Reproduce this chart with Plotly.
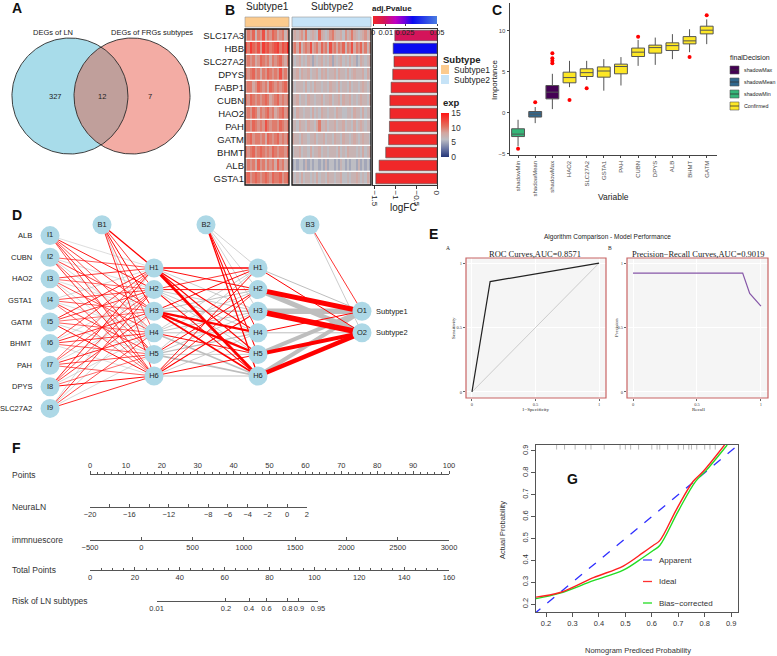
import numpy as np
import plotly.graph_objects as go

W, H = 777, 656
SANS = "Liberation Sans, Arial, sans-serif"
SERIF = "Liberation Serif, Times New Roman, serif"

# ---------------- data ----------------
# A: Venn
venn_labels = ["DEGs of LN", "DEGs of FRGs subtypes"]
venn_counts = [327, 12, 7]  # LN only, both, FRG subtypes only

# B: heatmap + logFC bars
genes = ["SLC17A3", "HBB", "SLC27A2", "DPYS", "FABP1", "CUBN",
         "HAO2", "PAH", "GATM", "BHMT", "ALB", "GSTA1"]
logfc = [-1.02, -1.06, -1.04, -1.07, -1.11, -1.14, -1.14, -1.15, -1.17, -1.24, -1.40, -1.48]
adj_pvalue = [0.009, 0.031, 0.0004, 0.0003, 0.0005, 0.0002,
              0.0003, 0.0002, 0.0001, 0.0002, 0.0001, 0.0001]
# expression per sample, one hex digit (0-15) per column
exp_subtype1 = [
    "8a9b7a" "9c8a9b" "a89a79",
    "cadbac" "9dbcab" "cdacbe",
    "9a9a89" "ba9a8a" "9ab98a",
    "a9ab9a" "8a9ba9" "a9c9a8",
    "9aa89b" "a9a8ba" "9a9ab9",
    "a9ba9a" "9aba89" "ab9a9a",
    "9a9ba8" "a9ab9a" "89ab9a",
    "aa9ba9" "a9ca9a" "a9ba9a",
    "9ab9aa" "9a8ba9" "ab9a9b",
    "a9ab9a" "ba9a9b" "a9aa9b",
    "8a9a8b" "9a8a9a" "8b9a89",
    "ab9aba" "9aba9b" "aab9ab",
]
exp_subtype2 = [
    "787897" "a67876" "b87679" "a87786" "978a87" "678978",
    "9a8b79" "a9c89a" "8b9a7c" "9a8a9b" "7a9c8a" "9b8a79",
    "767867" "687576" "786768" "576786" "768675" "687678",
    "778687" "786778" "687867" "786877" "686787" "778687",
    "767776" "867687" "767768" "776867" "768677" "678767",
    "778677" "687767" "786778" "677868" "778676" "787768",
    "768776" "776867" "687767" "768776" "677687" "768677",
    "776877" "687768" "a77867" "786778" "677686" "787677",
    "877687" "767786" "778677" "687768" "776787" "678776",
    "677867" "768677" "867767" "776867" "687776" "768678",
    "565665" "756566" "565756" "656576" "565665" "756565",
    "767686" "776768" "677687" "767786" "676778" "767687",
]

# C: Boruta importance
features = ["shadowMin", "shadowMean", "shadowMax", "HAO2", "SLC27A2", "GSTA1",
            "PAH", "CUBN", "DPYS", "ALB", "BHMT", "GATM"]
decisions = ["shadowMin", "shadowMean", "shadowMax"] + ["Confirmed"] * 9
box_q1 = [-2.9, -0.52, 1.7, 3.66, 4.43, 4.35, 4.76, 6.87, 7.28, 7.6, 8.41, 9.63]
box_median = [-2.6, -0.16, 2.52, 4.3, 4.9, 5.1, 5.65, 7.4, 7.96, 8.2, 8.78, 10.08]
box_q3 = [-1.95, 0.16, 3.33, 4.96, 5.37, 5.6, 5.94, 7.9, 8.26, 8.54, 9.3, 10.57]
box_low = [-4.1, -1.26, 0.45, 3.13, 4.02, 2.7, 3.33, 5.73, 5.85, 6.55, 7.4, 8.38]
box_high = [-0.85, 0.7, 4.76, 6.34, 6.34, 6.55, 6.8, 8.9, 9.18, 9.6, 10.2, 11.4]
outlier_feature = ["shadowMin", "shadowMean", "shadowMax", "shadowMax", "shadowMax", "shadowMax",
                   "HAO2", "SLC27A2", "CUBN", "BHMT", "GATM"]
outlier_value = [-4.4, 1.3, 7.28, 6.67, 6.34, 6.06, 1.55, 3.0, 9.27, 6.8, 11.9]
decision_order = ["shadowMax", "shadowMean", "shadowMin", "Confirmed"]
decision_colors = ["#440154", "#31688E", "#35B779", "#FDE725"]

# D: neural network weights
nn_inputs = ["ALB", "CUBN", "HAO2", "GSTA1", "GATM", "BHMT", "PAH", "DPYS", "SLC27A2"]
nn_outputs = ["Subtype1", "Subtype2"]
w_in_h1 = [
    [-0.8, 1.4, 1.2, 1.0, 1.3, 1.1],
    [1.0, -0.8, 1.2, -0.9, 1.0, 1.3],
    [1.2, 0.9, -0.8, 1.1, -0.9, 1.0],
    [-0.9, 1.1, 1.0, -0.8, 1.2, 0.9],
    [1.3, 1.2, 0.9, 1.0, -1.0, 1.4],
    [1.1, -0.9, 1.3, 1.2, 1.0, -0.8],
    [0.9, 1.0, -0.9, 1.3, 1.1, 1.0],
    [1.4, 1.0, 1.2, -1.0, 0.9, 1.5],
    [-0.9, 1.2, -1.0, 1.1, -0.9, 1.3],
]
w_b1_h1 = [2.0, 1.2, 1.5, 1.0, -0.9, 1.3]
w_h1_h2 = [
    [1.8, 1.2, -1.0, 1.3, 1.5, 3.5],
    [1.0, 1.2, -1.0, -1.0, -1.0, 1.3],
    [1.2, -1.2, -2.0, 3.0, 3.0, 2.0],
    [-1.0, -1.0, -1.2, -1.2, 1.2, -2.0],
    [-1.0, 1.2, -1.0, -1.5, -1.0, -2.0],
    [1.2, 1.0, 1.3, -1.0, 1.2, -1.2],
]
w_b2_h2 = [-1.0, -1.0, -1.0, 1.3, 1.5, 1.8]
w_h2_out = [[-1.0, 1.0], [5.0, -5.0], [-5.5, 5.5], [1.0, -1.0], [-4.0, 4.0], [-4.0, 4.5]]
w_b3_out = [1.0, -1.0]

# E: ROC / PR
roc_fpr = [0, 0.1429, 1]
roc_tpr = [0, 0.8571, 1]
pr_recall = [0, 0.857, 0.912, 1.0]
pr_precision = [0.923, 0.923, 0.765, 0.667]

# F: nomogram
points_ticks = list(range(0, 101, 10))
neura_ticks = list(range(-20, 3, 2))
neura_labels = ["−20", "", "−16", "", "−12", "", "−8", "−6", "−4", "−2", "0", "2"]
neura_points_range = [0, 60.4]
immune_ticks = list(range(-500, 3001, 500))
total_ticks = list(range(0, 161, 20))
risk_labels = ["0.01", "0.2", "0.4", "0.6", "0.8", "0.9", "0.95"]
risk_total_points = [29.7, 60.6, 70.9, 78.7, 87.9, 93.1, 101.6]

# G: calibration
cal_pred_red = [0.162, 0.253, 0.379, 0.492, 0.567, 0.605, 0.63, 0.693, 0.756, 0.794, 0.875]
cal_red = [0.232, 0.253, 0.321, 0.374, 0.435, 0.468, 0.49, 0.632, 0.760, 0.806, 0.927]
cal_pred_green = [0.162, 0.253, 0.379, 0.492, 0.567, 0.605, 0.63, 0.70, 0.765, 0.805, 0.885]
cal_green = [0.225, 0.250, 0.307, 0.355, 0.413, 0.445, 0.468, 0.625, 0.760, 0.810, 0.927]
rug_pred = [0.24, 0.27, 0.31, 0.35, 0.37, 0.42, 0.48, 0.5, 0.52, 0.55, 0.6, 0.62,
            0.63, 0.66, 0.7, 0.72, 0.74, 0.75, 0.77, 0.8, 0.82, 0.84]


# ---------------- helpers ----------------
def dx(x0, x1):
    return [x0 / W, x1 / W]


def dy(y0, y1):
    return [1 - y1 / H, 1 - y0 / H]


annotations = []
shapes = []
axes = {}


def note(text, x, y, size=8, color="#222", xanchor="center", yanchor="middle",
         bold=False, family=SANS, angle=0):
    if bold:
        text = f"<b>{text}</b>"
    annotations.append(dict(text=text, x=x / W, y=1 - y / H, xref="paper", yref="paper",
                            showarrow=False, xanchor=xanchor, yanchor=yanchor, textangle=angle,
                            font=dict(size=size, color=color, family=family)))


def rect(x0, y0, x1, y1, fill, line="rgba(0,0,0,0)", width=0.6):
    shapes.append(dict(type="rect", xref="paper", yref="paper", x0=x0 / W, x1=x1 / W,
                       y0=1 - y1 / H, y1=1 - y0 / H, fillcolor=fill,
                       line=dict(color=line, width=width)))


def seg(x0, y0, x1, y1, color, width=1.0, dash="solid"):
    shapes.append(dict(type="line", xref="paper", yref="paper", x0=x0 / W, x1=x1 / W,
                       y0=1 - y0 / H, y1=1 - y1 / H, line=dict(color=color, width=width, dash=dash)))


def axis(name, domain, rng=None, **kw):
    d = dict(domain=domain, showgrid=False, zeroline=False, showline=False, ticks="",
             showticklabels=False, automargin=False, fixedrange=True)
    if rng is not None:
        d["range"] = rng
    d.update(kw)
    axes[name] = d


fig = go.Figure()

# ---------------- A ----------------
d = 0.535
t = np.linspace(0, 2 * np.pi, 240)
for cx, col in [(-d, "#A8DCEA"), (d, "#F3ACA4")]:
    fig.add_trace(go.Scatter(x=cx + np.cos(t), y=np.sin(t), fill="toself", fillcolor=col,
                             mode="lines", line=dict(width=0), xaxis="x", yaxis="y", hoverinfo="skip"))
a = np.arccos(d)
ta = np.linspace(-a, a, 80)
tb = np.linspace(np.pi - a, np.pi + a, 80)
fig.add_trace(go.Scatter(x=np.concatenate([-d + np.cos(ta), d + np.cos(tb)]),
                         y=np.concatenate([np.sin(ta), np.sin(tb)]), fill="toself",
                         fillcolor="#C09F9B", mode="lines", line=dict(width=0),
                         xaxis="x", yaxis="y", hoverinfo="skip"))
for cx in (-d, d):
    fig.add_trace(go.Scatter(x=cx + np.cos(t), y=np.sin(t), mode="lines",
                             line=dict(color="#2a2a2a", width=0.9), xaxis="x", yaxis="y", hoverinfo="skip"))
axis("xaxis", dx(0, 215), [-1.741, 1.966], anchor="y")
axis("yaxis", dy(20, 180), [-1.448, 1.310], anchor="x")
for txt, xv in zip(venn_labels, [-0.83, 0.88]):
    annotations.append(dict(text=txt, x=xv, y=1.086, xref="x", yref="y", showarrow=False,
                            font=dict(size=7.5, color="#222")))
for cnt, xv in zip(venn_counts, [-0.79, 0.02, 0.845]):
    annotations.append(dict(text=str(cnt), x=xv, y=0.0, xref="x", yref="y", showarrow=False,
                            font=dict(size=7.5, color="#222")))

# ---------------- B ----------------
exp_scale = [[0, "#233578"], [0.2, "#6F7AA5"], [0.4, "#BDBDC3"], [0.55, "#D3A6A0"],
             [0.7, "#E2705F"], [1, "#FF1414"]]
p_scale = [[0, "#F02828"], [0.18, "#D4145A"], [0.35, "#C000C0"], [0.5, "#6A00E0"],
           [0.62, "#0A0AF0"], [1, "#4A7DE0"]]
z1 = [[int(c, 16) for c in row] for row in exp_subtype1]
z2 = [[int(c, 16) for c in row] for row in exp_subtype2]
fig.add_trace(go.Heatmap(z=z1, coloraxis="coloraxis", xaxis="x2", yaxis="y2", ygap=1.3, hoverinfo="skip"))
fig.add_trace(go.Heatmap(z=z2, coloraxis="coloraxis", xaxis="x3", yaxis="y3", ygap=1.3, hoverinfo="skip"))
axis("xaxis2", dx(245, 289), [-0.5, len(z1[0]) - 0.5], anchor="y2")
axis("yaxis2", dy(29, 185), [11.5, -0.5], anchor="x2", showticklabels=True,
     tickvals=list(range(12)), ticktext=genes, tickfont=dict(size=9.5, color="#1a1a1a"))
axis("xaxis3", dx(292, 371), [-0.5, len(z2[0]) - 0.5], anchor="y3")
axis("yaxis3", dy(29, 185), [11.5, -0.5], anchor="x3")
for xa, ya, col, lab in [("x2", "y2", "#FCCB8E", "Subtype1"), ("x3", "y3", "#C6E3F7", "Subtype2")]:
    shapes.append(dict(type="rect", xref=f"{xa} domain", yref=f"{ya} domain", x0=0, x1=1, y0=0, y1=1,
                       line=dict(color="#111", width=1.3), fillcolor="rgba(0,0,0,0)"))
    shapes.append(dict(type="rect", xref=f"{xa} domain", yref="paper", x0=0, x1=1,
                       y0=1 - 27 / H, y1=1 - 17 / H, fillcolor=col, line=dict(color="#999", width=0.6)))
note("Subtype1", 267, 7, size=10)
note("Subtype2", 332, 7, size=10)

fig.add_trace(go.Bar(x=logfc, y=list(range(12)), orientation="h", width=0.82,
                     marker=dict(color=adj_pvalue, coloraxis="coloraxis2", line=dict(color="#4a4a4a", width=0.6)),
                     xaxis="x4", yaxis="y4", hoverinfo="skip"))
axis("xaxis4", dx(373, 437), [-1.548, 0], anchor="y4", showline=True, mirror=True, linecolor="#333",
     linewidth=0.8, ticks="outside", ticklen=3, tickcolor="#333", showticklabels=True,
     tickvals=[-1.5, -1, -0.5, 0], ticktext=["−1.5", "−1", "−0.5", "0"], tickangle=90,
     tickfont=dict(size=8, color="#222"))
axis("yaxis4", dy(29, 185), [11.5, -0.5], anchor="x4", showline=True, mirror=True,
     linecolor="#333", linewidth=0.8)
note("logFC", 403, 207, size=10)
note("adj.Pvalue", 392, 9, size=8, bold=True)
note("Subtype", 441, 59, size=9.5, bold=True, xanchor="left")
rect(441, 65, 449, 74, "#FCCB8E")
rect(441, 75, 449, 84, "#C6E3F7")
note("Subtype1", 452, 70, size=8.5, xanchor="left")
note("Subtype2", 452, 80, size=8.5, xanchor="left")
note("exp", 441, 103, size=9.5, bold=True, xanchor="left")

# ---------------- C ----------------
for i, f in enumerate(features):
    col = decision_colors[decision_order.index(decisions[i])]
    fig.add_trace(go.Box(x=[f], q1=[box_q1[i]], median=[box_median[i]], q3=[box_q3[i]],
                         lowerfence=[box_low[i]], upperfence=[box_high[i]], fillcolor=col,
                         line=dict(color="#555555", width=1), whiskerwidth=0, width=0.75,
                         boxpoints=False, xaxis="x5", yaxis="y5", hoverinfo="skip"))
fig.add_trace(go.Scatter(x=outlier_feature, y=outlier_value, mode="markers",
                         marker=dict(color="#FF0000", size=4), xaxis="x5", yaxis="y5", hoverinfo="skip"))
axis("xaxis5", dx(510, 717), [-0.47, 11.6], anchor="y5", type="category", categoryorder="array",
     categoryarray=features, showline=True, linecolor="#444", linewidth=0.8, ticks="outside",
     ticklen=2.5, tickcolor="#444", showticklabels=True, tickangle=-90,
     tickfont=dict(size=6, color="#4D4D4D"))
axis("yaxis5", dy(3, 155), [-5.15, 13.4], anchor="x5", showline=True, linecolor="#444", linewidth=0.8,
     ticks="outside", ticklen=2.5, tickcolor="#444", showticklabels=True, tickvals=[-5, 0, 5, 10],
     ticktext=["−5", "0", "5", "10"], tickfont=dict(size=6, color="#4D4D4D"))
note("Importance", 494, 80, size=8, angle=-90)
note("Variable", 613, 197, size=8.5)
note("finalDecision", 728, 57, size=7, xanchor="left")
for k, (lab, col) in enumerate(zip(decision_order, decision_colors)):
    yc = 70 + k * 12
    rect(730, yc - 4, 739, yc + 4, col, line="#555", width=0.6)
    seg(730, yc, 739, yc, "#333", 0.8)
    note(lab, 742, yc, size=5.3, xanchor="left")

# ---------------- D ----------------
POS, NEG = "#FF0000", "#BEBEBE"


def layer_y(n):
    return [(n - 1) / 2 - k for k in range(n)]


y_in, y_h, y_out = layer_y(9), layer_y(6), layer_y(2)
bias_y = 4.5
edges = []
for i in range(9):
    for j in range(6):
        edges.append((0, y_in[i], 1, y_h[j], w_in_h1[i][j], 0.65))
for j in range(6):
    edges.append((0.5, bias_y, 1, y_h[j], w_b1_h1[j], 0.65))
for i in range(6):
    for j in range(6):
        edges.append((1, y_h[i], 2, y_h[j], w_h1_h2[i][j], 0.8))
for j in range(6):
    edges.append((1.5, bias_y, 2, y_h[j], w_b2_h2[j], 0.7))
for i in range(6):
    for j in range(2):
        edges.append((2, y_h[i], 3, y_out[j], w_h2_out[i][j], 1.0))
for j in range(2):
    edges.append((2.5, bias_y, 3, y_out[j], w_b3_out[j], 0.8))
edges.sort(key=lambda e: e[4] > 0)
for x0, y0, x1, y1, w, k in edges:
    fig.add_trace(go.Scatter(x=[x0, x1], y=[y0, y1], mode="lines",
                             line=dict(color=POS if w > 0 else NEG, width=max(abs(w) * k, 0.5)),
                             xaxis="x6", yaxis="y6", hoverinfo="skip"))
node_x = [0] * 9 + [1] * 6 + [2] * 6 + [3] * 2 + [0.5, 1.5, 2.5]
node_y = y_in + y_h + y_h + y_out + [bias_y] * 3
node_t = [f"I{i + 1}" for i in range(9)] + [f"H{i + 1}" for i in range(6)] * 2 + ["O1", "O2", "B1", "B2", "B3"]
fig.add_trace(go.Scatter(x=node_x, y=node_y, text=node_t, mode="markers+text", textposition="middle center",
                         marker=dict(size=19, color="#ADD8E6"), textfont=dict(size=7.5, color="#222"),
                         xaxis="x6", yaxis="y6", hoverinfo="skip", cliponaxis=False))
axis("xaxis6", dx(0, 420), [-0.481, 3.558], anchor="y6")
axis("yaxis6", dy(200, 440), [-5.463, 5.648], anchor="x6")
for name, yv in zip(nn_inputs, y_in):
    annotations.append(dict(text=name, x=0, y=yv, xref="x6", yref="y6", showarrow=False, xanchor="right",
                            xshift=-16, font=dict(size=7.5, color="#222")))
for name, yv in zip(nn_outputs, y_out):
    annotations.append(dict(text=name, x=3, y=yv, xref="x6", yref="y6", showarrow=False, xanchor="left",
                            xshift=12, font=dict(size=7.5, color="#222")))

# ---------------- E ----------------
note("Algorithm Comparison - Model Performance", 607, 237, size=6.5)
for xa, ya, xd, title, tx, xl, yl, lx in [
        ("x7", "y7", (466, 606), "ROC Curves,AUC=0.8571", 535, "1−Specificity", "Sensitivity", 453),
        ("x8", "y8", (627, 768), "Precision−Recall Curves,AUC=0.9019", 698, "Recall", "Precision", 616)]:
    n = xa[1:]
    axis(f"xaxis{n}", dx(*xd), [-0.047, 1.055], anchor=ya, showgrid=True, gridcolor="white", gridwidth=1,
         ticks="outside", ticklen=2, tickcolor="#666", showticklabels=True, tickvals=[0, 0.5, 1],
         ticktext=["0", "0.5", "1"], tickfont=dict(size=4.5, family=SERIF, color="#444"), tickangle=0)
    axis(f"yaxis{n}", dy(258, 398), [-0.047, 1.04], anchor=xa, showgrid=True, gridcolor="white", gridwidth=1,
         ticks="outside", ticklen=2, tickcolor="#666", showticklabels=True, tickvals=[0, 0.5, 1],
         ticktext=["0", "0.5", "1"], tickfont=dict(size=4.5, family=SERIF, color="#444"))
    shapes.append(dict(type="rect", xref=f"{xa} domain", yref=f"{ya} domain", x0=0, x1=1, y0=0, y1=1,
                       fillcolor="#F5F5F5", line=dict(width=0), layer="below"))
    shapes.append(dict(type="rect", xref=f"{xa} domain", yref=f"{ya} domain", x0=0, x1=1, y0=0, y1=1,
                       fillcolor="rgba(0,0,0,0)", line=dict(color="#C86464", width=1.2)))
    note(title, tx, 254, size=8.5, family=SERIF)
    note(xl, tx, 409, size=5, family=SERIF)
    note(yl, lx, 328, size=5, family=SERIF, angle=-90)
note("A", 448, 248, size=5.5, family=SERIF)
note("B", 610, 248, size=5.5, family=SERIF)
fig.add_trace(go.Scatter(x=[0, 1], y=[0, 1], mode="lines", line=dict(color="#B0B0B0", width=0.6),
                         xaxis="x7", yaxis="y7", hoverinfo="skip"))
fig.add_trace(go.Scatter(x=roc_fpr, y=roc_tpr, mode="lines", line=dict(color="#222", width=1.2),
                         xaxis="x7", yaxis="y7", hoverinfo="skip"))
fig.add_trace(go.Scatter(x=pr_recall, y=pr_precision, mode="lines", line=dict(color="#8657A8", width=1.2),
                         xaxis="x8", yaxis="y8", hoverinfo="skip"))

# ---------------- F ----------------
PX0, PX1 = 90, 449
pt_px = (PX1 - PX0) / 100.0
tp_px = (PX1 - PX0) / 160.0
f_line = dict(showline=True, linecolor="#555", linewidth=0.8, tickcolor="#555", tickwidth=0.8,
              showticklabels=True, tickangle=0, tickfont=dict(size=7.5, color="#333"))
rows = [
    # axis number, label, y pixel of line, x domain (px), range, axis extras
    (9, "Points", 475, (PX0, PX1), [0, 100],
     dict(side="top", ticks="outside", ticklen=3, tickvals=points_ticks,
          minor=dict(ticks="outside", ticklen=2, dtick=2, tick0=0, tickcolor="#555"))),
    (10, "NeuraLN", 507, (PX0 + neura_points_range[0] * pt_px, PX0 + neura_points_range[1] * pt_px),
     [neura_ticks[0], neura_ticks[-1]], dict(ticks="inside", ticklen=3, tickvals=neura_ticks, ticktext=neura_labels)),
    (11, "immnuescore", 540, (PX0, PX1), [immune_ticks[0], immune_ticks[-1]],
     dict(ticks="inside", ticklen=3, tickvals=immune_ticks, ticktext=[str(v).replace("-", "−") for v in immune_ticks])),
    (12, "Total Points", 570, (PX0, PX1), [0, 160],
     dict(ticks="inside", ticklen=3, tickvals=total_ticks,
          minor=dict(ticks="inside", ticklen=2, dtick=5, tick0=0, tickcolor="#555"))),
    (13, "Risk of LN subtypes", 601,
     (PX0 + risk_total_points[0] * tp_px, PX0 + risk_total_points[-1] * tp_px),
     [risk_total_points[0], risk_total_points[-1]],
     dict(ticks="inside", ticklen=3, tickvals=risk_total_points, ticktext=risk_labels)),
]
for n, lab, ly, xd, rng, extra in rows:
    kw = dict(f_line)
    kw.update(extra)
    axis(f"xaxis{n}", dx(*xd), rng, anchor=f"y{n}", **kw)
    if n == 9:
        axis(f"yaxis{n}", dy(ly, ly + 6), [0, 1], anchor=f"x{n}")
    else:
        axis(f"yaxis{n}", dy(ly - 6, ly), [0, 1], anchor=f"x{n}")
    fig.add_trace(go.Scatter(x=rng, y=[0.5, 0.5], mode="markers", marker=dict(size=1, opacity=0),
                             xaxis=f"x{n}", yaxis=f"y{n}", hoverinfo="skip"))
    note(lab, 10, ly, size=8.5, color="#333", xanchor="left")

# ---------------- G ----------------
fig.add_trace(go.Scatter(x=[0.1, 1], y=[0.1, 1], mode="lines", line=dict(color="#2F2FFF", width=1.3, dash="dash"),
                         xaxis="x14", yaxis="y14", hoverinfo="skip"))
fig.add_trace(go.Scatter(x=cal_pred_green, y=cal_green, mode="lines", line=dict(color="#22DD22", width=1.4, shape="spline"),
                         xaxis="x14", yaxis="y14", hoverinfo="skip"))
fig.add_trace(go.Scatter(x=cal_pred_red, y=cal_red, mode="lines", line=dict(color="#FF2020", width=1.4, shape="spline"),
                         xaxis="x14", yaxis="y14", hoverinfo="skip"))
fig.add_trace(go.Scatter(x=rug_pred, y=[0.919] * len(rug_pred), mode="markers",
                         marker=dict(symbol="line-ns", size=4, line=dict(width=0.7, color="#999")),
                         xaxis="x14", yaxis="y14", hoverinfo="skip"))
g_ticks = [0.2, 0.3, 0.4, 0.5, 0.6, 0.7, 0.8, 0.9]
axis("xaxis14", dx(536, 738), [0.162, 0.926], anchor="y14", showline=True, mirror=True, linecolor="#555",
     linewidth=0.8, ticks="outside", ticklen=4, tickcolor="#555", showticklabels=True, tickvals=g_ticks,
     tickangle=0, tickfont=dict(size=7.5, color="#333"))
axis("yaxis14", dy(445, 612), [0.164, 0.927], anchor="x14", showline=True, mirror=True, linecolor="#555",
     linewidth=0.8, ticks="outside", ticklen=4, tickcolor="#555", showticklabels=True, tickvals=g_ticks,
     tickangle=-90, tickfont=dict(size=7.5, color="#333"))
note("Nomogram Prediced Probability", 638, 650, size=7.5, color="#333")
note("Actual Probability", 502, 530, size=7.5, color="#333", angle=-90)
for k, (lab, col) in enumerate([("Apparent", "#4A4AFF"), ("Ideal", "#FF3030"), ("Bias−corrected", "#22DD22")]):
    yc = 560 + k * 21.5
    seg(643, yc, 652, yc, col, 1.3)
    note(lab, 657, yc, size=8, color="#333", xanchor="left")

# ---------------- panel letters ----------------
for lab, x, y in [("A", 10, 8), ("B", 223, 10), ("C", 490, 10), ("D", 10, 215),
                  ("E", 427, 234), ("F", 10, 448), ("G", 565, 479)]:
    note(lab, x, y, size=14, bold=True, color="#111", xanchor="left")

fig.update_layout(
    width=W, height=H, margin=dict(l=0, r=0, t=0, b=0), template="none",
    paper_bgcolor="white", plot_bgcolor="white", showlegend=False, boxmode="overlay",
    font=dict(family=SANS, size=8, color="#222"),
    coloraxis=dict(cmin=0, cmax=15, colorscale=exp_scale,
                   colorbar=dict(x=441 / W, xanchor="left", y=1 - 113 / H, yanchor="top", len=44, lenmode="pixels",
                                 thickness=8, tickvals=[0, 5, 10, 15], tickfont=dict(size=8.5, color="#333"),
                                 outlinewidth=0, xpad=0, ypad=0, ticks="")),
    coloraxis2=dict(cmin=0, cmax=0.05, colorscale=p_scale,
                    colorbar=dict(orientation="h", x=373 / W, xanchor="left", y=1 - 16 / H, yanchor="top",
                                  len=64 / W, lenmode="fraction", thickness=8, tickvals=[0, 0.01, 0.025, 0.05],
                                  ticktext=["0", "0.01", "0.025", "0.05"], tickangle=0,
                                  tickfont=dict(size=7.5, color="#222"),
                                  outlinewidth=0, xpad=0, ypad=0, ticks="outside", ticklen=2)),
    annotations=annotations, shapes=shapes, **axes)

# the page body has a default 8px margin; drop it so the figure sits at the window's origin
fig.write_html("out.html", config={"displayModeBar": False},
               post_script="document.body.style.margin='0';")
